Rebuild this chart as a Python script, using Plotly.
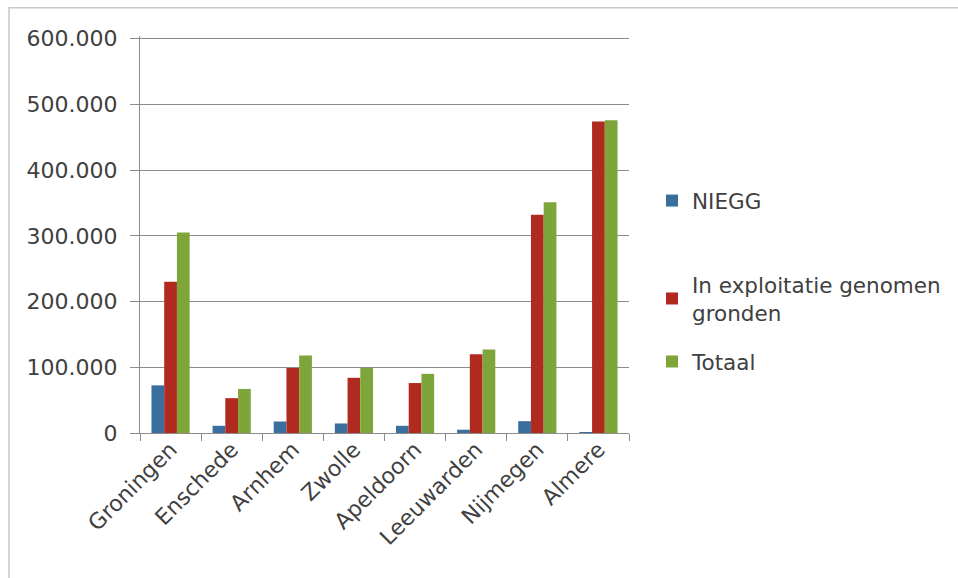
import plotly.graph_objects as go

# Gemeenten en bedragen per categorie
gemeenten = ["Groningen", "Enschede", "Arnhem", "Zwolle", "Apeldoorn",
             "Leeuwarden", "Nijmegen", "Almere"]
niegg = [72500, 11000, 17500, 14500, 11000, 5000, 18000, 1000]
exploitatie = [230000, 53000, 99000, 84000, 76000, 120000, 332000, 474000]
totaal = [305000, 67000, 118000, 99000, 90000, 127000, 351000, 476000]

y_ticks = [0, 100000, 200000, 300000, 400000, 500000, 600000]
y_labels = ["0", "100.000", "200.000", "300.000", "400.000", "500.000", "600.000"]

FONT = "DejaVu Sans"
TXT = "#404040"
GRID = "#8c8c8c"

W, H = 958, 578
Y_TOP = 604000          # a little headroom so the 600.000 gridline is drawn
PX_PER_UNIT = 394.5 / 600000
L, R, B = 140, 329, 144.5
T = H - B - Y_TOP * PX_PER_UNIT
pw, ph = W - L - R, H - T - B


def px_x(x):
    return (x - L) / pw


def px_y(y):
    return (H - B - y) / ph


fig = go.Figure()
fig.add_trace(go.Bar(name="NIEGG", x=gemeenten, y=niegg,
                     marker=dict(color="#3a6e9e", line=dict(width=0)),
                     legend="legend", showlegend=True))
fig.add_trace(go.Bar(name="In exploitatie genomen<br>gronden", x=gemeenten, y=exploitatie,
                     marker=dict(color="#b02a1f", line=dict(width=0)),
                     legend="legend2", showlegend=True))
fig.add_trace(go.Bar(name="Totaal", x=gemeenten, y=totaal,
                     marker=dict(color="#7ea53a", line=dict(width=0)),
                     legend="legend3", showlegend=True))

leg_common = dict(font=dict(family=FONT, size=21.5, color=TXT), bgcolor="rgba(0,0,0,0)",
                  xanchor="left", yanchor="middle", valign="middle",
                  itemclick=False, itemdoubleclick=False)

fig.update_layout(
    width=W, height=H,
    margin=dict(l=L, r=R, t=T, b=B),
    paper_bgcolor="white", plot_bgcolor="white",
    showlegend=True,
    barmode="group", bargap=0.375, bargroupgap=0,
    font=dict(family=FONT, color=TXT, size=22),
    legend=dict(x=px_x(652), y=px_y(201), **leg_common),
    legend2=dict(x=px_x(652), y=px_y(299), **leg_common),
    legend3=dict(x=px_x(652), y=px_y(362), **leg_common),
    xaxis=dict(
        type="category", tickangle=-45, tickson="boundaries",
        ticks="outside", ticklen=7, tickcolor=GRID, tickwidth=1,
        showline=True, linecolor=GRID, linewidth=1,
        showgrid=False, ticklabelstandoff=-6,
        tickfont=dict(family=FONT, size=22, color=TXT),
        fixedrange=True,
    ),
    yaxis=dict(
        range=[0, Y_TOP], tickvals=y_ticks, ticktext=y_labels,
        ticks="outside", ticklen=9, tickcolor=GRID, tickwidth=1,
        showline=True, linecolor=GRID, linewidth=1,
        showgrid=True, gridcolor=GRID, gridwidth=1,
        zeroline=False, ticklabelstandoff=8,
        tickfont=dict(family=FONT, size=22, color=TXT),
        fixedrange=True,
    ),
    shapes=[dict(type="rect", xref="paper", yref="paper",
                 x0=px_x(9), y0=px_y(590), x1=px_x(970), y1=px_y(8),
                 line=dict(color="#c8c8c8", width=1.5), layer="below")],
)

fig.write_html("out.html", config=dict(displayModeBar=False))
